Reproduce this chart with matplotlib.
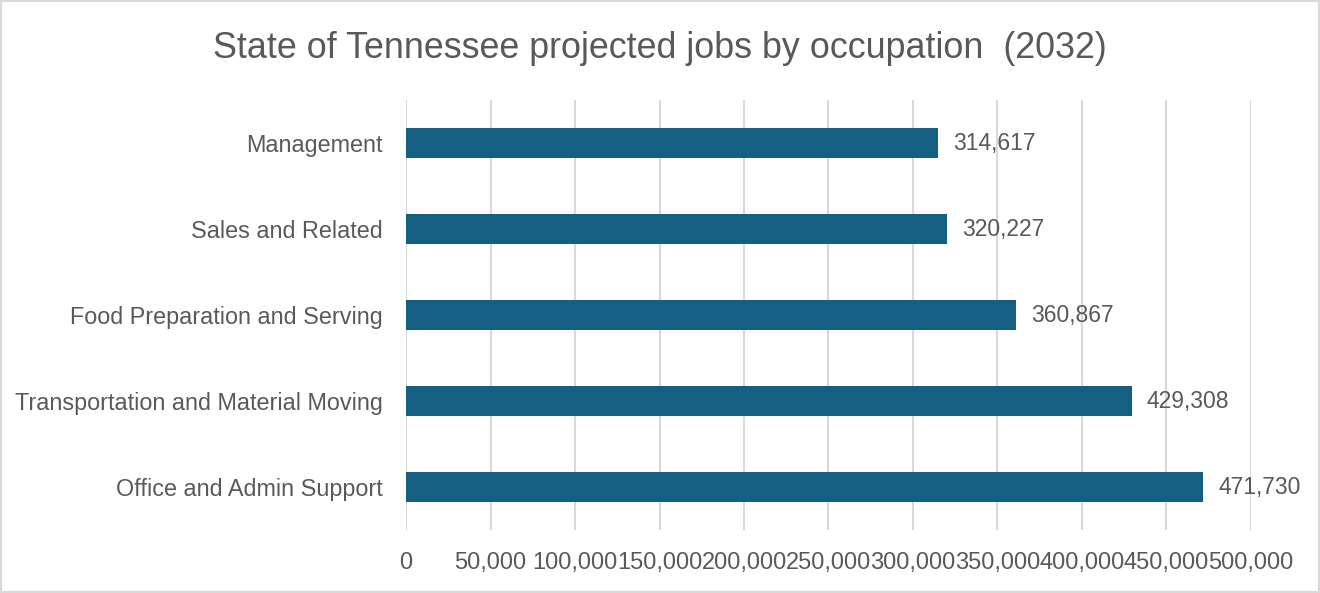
import matplotlib
matplotlib.use("Agg")
import matplotlib.pyplot as plt
from matplotlib.ticker import FuncFormatter
from matplotlib.patches import Rectangle

# Projected 2032 employment by occupation (Tennessee)
occupations = ["Office and Admin Support", "Transportation and Material Moving",
               "Food Preparation and Serving", "Sales and Related", "Management"]
jobs = [471730, 429308, 360867, 320227, 314617]
xticks = [0, 50000, 100000, 150000, 200000, 250000, 300000, 350000, 400000, 450000, 500000]

barColor = "#156082"
textColor = "#595959"
gridColor = "#d9d9d9"
font = ["Liberation Sans", "DejaVu Sans"]

fig = plt.figure(figsize=(13.2, 5.93), dpi=100)
ax = fig.add_axes([0.3076, 0.106, 0.9477 - 0.3076, 0.831 - 0.106])

ypos = range(len(occupations))
ax.barh(ypos, jobs, height=0.35, color=barColor, zorder=3)

for y, v in zip(ypos, jobs):
    ax.text(v + 9000, y, f"{v:,}", va="center", ha="left", fontsize=16.5,
            color=textColor, family=font)

ax.set_xlim(0, 500000)
ax.set_ylim(-0.5, len(occupations) - 0.5)
ax.set_xticks(xticks)
ax.xaxis.set_major_formatter(FuncFormatter(lambda v, p: f"{int(v):,}"))
ax.set_yticks(list(ypos))
ax.set_yticklabels(occupations)

for lbl in ax.get_xticklabels() + ax.get_yticklabels():
    lbl.set_family(font)

ax.tick_params(axis="x", length=0, pad=16, labelsize=17, labelcolor=textColor)
ax.tick_params(axis="y", length=0, pad=16.5, labelsize=16.8, labelcolor=textColor)
ax.grid(axis="x", color=gridColor, linewidth=1.5, zorder=0)
for s in ax.spines.values():
    s.set_visible(False)

fig.text(0.5, 0.918, "State of Tennessee projected jobs by occupation  (2032)",
         ha="center", va="center", fontsize=25.8, color=textColor, family=font)

# thin frame around the whole chart
fig.patches.append(Rectangle((0.001, 0.002), 0.998, 0.996, transform=fig.transFigure,
                             fill=False, edgecolor=gridColor, linewidth=1.5))

fig.savefig("out.png", dpi=100, facecolor="white")
